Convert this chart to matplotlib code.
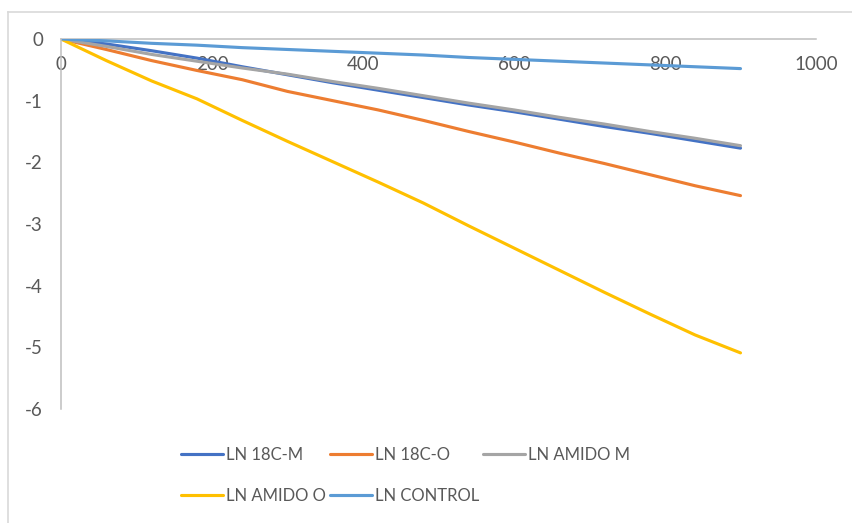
#!/usr/bin/env python3

import matplotlib
matplotlib.use('Agg')

import matplotlib.pyplot as plt
from matplotlib.lines import Line2D

# time points and the five series
times = [0, 60, 120, 180, 240, 300, 360, 420, 480, 540, 600, 660, 720, 780, 840, 900]
ln_18c_m = [0, -0.08, -0.19, -0.31, -0.45, -0.58, -0.71, -0.83, -0.95, -1.07,
            -1.18, -1.30, -1.42, -1.53, -1.65, -1.77]
ln_18c_o = [0, -0.17, -0.35, -0.51, -0.66, -0.85, -1.00, -1.15, -1.32, -1.50,
            -1.67, -1.85, -2.02, -2.20, -2.38, -2.54]
ln_amido_m = [0, -0.12, -0.25, -0.36, -0.47, -0.57, -0.69, -0.80, -0.92, -1.04,
              -1.15, -1.27, -1.38, -1.50, -1.61, -1.73]
ln_amido_o = [0, -0.35, -0.68, -0.97, -1.32, -1.66, -1.99, -2.32, -2.66, -3.03,
              -3.39, -3.75, -4.11, -4.46, -4.80, -5.09]
ln_control = [0, -0.03, -0.07, -0.10, -0.14, -0.17, -0.20, -0.23, -0.26, -0.30,
              -0.33, -0.36, -0.39, -0.42, -0.45, -0.48]

labels = ["LN 18C-M", "LN 18C-O", "LN AMIDO M", "LN AMIDO O", "LN CONTROL"]
colors = ["#4472C4", "#ED7D31", "#A5A5A5", "#FFC000", "#5B9BD5"]
xticks = [0, 200, 400, 600, 800, 1000]
yticks = [0, -1, -2, -3, -4, -5, -6]

plt.rcParams.update({'font.family': ['Lato', 'DejaVu Sans']})
plt.rcParams.update({'font.size': 12})

fig = plt.figure(figsize=(8.52, 5.23), dpi=100)
ax = fig.add_axes([61/852, 114/523, 755/852, 370/523])

series = [ln_18c_m, ln_18c_o, ln_amido_m, ln_amido_o, ln_control]
handles = []
for ys, label, color in zip(series, labels, colors):
    h, = ax.plot(times, ys, color=color, linewidth=2.25, label=label,
                 solid_capstyle='round')
    handles.append(h)

ax.set_xlim(0, 1000)
ax.set_ylim(-6, 0)
ax.set_xticks(xticks)
ax.set_yticks(yticks)
ax.set_xticklabels([str(t) for t in xticks])
ax.set_yticklabels([str(t) for t in yticks])

# value axis crosses at y=0, which is the top of the plot
ax.spines['bottom'].set_position(('data', 0))
ax.spines['top'].set_visible(False)
ax.spines['right'].set_visible(False)
for side in ('bottom', 'left'):
    ax.spines[side].set_color('#BFBFBF')
    ax.spines[side].set_linewidth(1.1)
ax.spines['bottom'].set_zorder(0)
ax.tick_params(length=0, colors='#595959', labelsize=13.5)
ax.tick_params(axis='x', pad=12)
ax.tick_params(axis='y', pad=13)
for lbl in ax.get_xticklabels() + ax.get_yticklabels():
    lbl.set_color('#595959')

# excel fills the legend row by row, matplotlib column by column
order = [0, 3, 1, 4, 2]
leg = fig.legend([handles[i] for i in order], [labels[i] for i in order],
                 loc='upper left', bbox_to_anchor=(181/852, 1 - 447/523),
                 ncol=3, frameon=False, borderpad=0, borderaxespad=0,
                 handlelength=2.5, handletextpad=0.2, columnspacing=0.25,
                 labelspacing=1.5, fontsize=12)
for t in leg.get_texts():
    t.set_color('#595959')

# chart area border (only left and top fall inside the picture)
fig.add_artist(Line2D([8/852, 8/852], [0, 1 - 12/523], transform=fig.transFigure,
                      color='#D9D9D9', linewidth=1.2))
fig.add_artist(Line2D([8/852, 1], [1 - 12/523, 1 - 12/523], transform=fig.transFigure,
                      color='#D9D9D9', linewidth=1.2))

fig.savefig("out.png", dpi=100)
plt.close()
